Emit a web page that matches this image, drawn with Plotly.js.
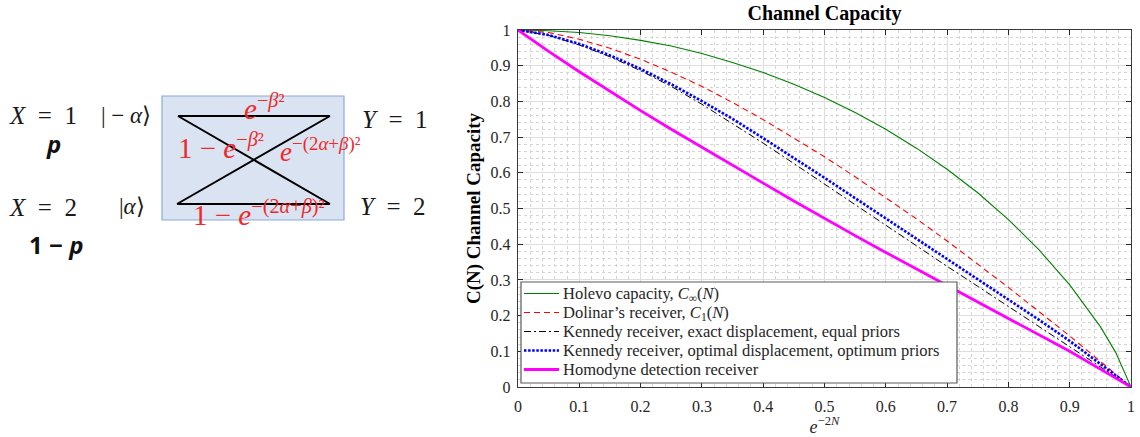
<!DOCTYPE html>
<html>
<head>
<meta charset="utf-8">
<script src="https://cdn.plot.ly/plotly-3.0.1.min.js"></script>
<style>html,body{margin:0;padding:0;background:#fff;}#chart{width:1140px;height:437px;}</style>
</head>
<body>
<div id="chart"></div>
<script>
// ---- data ----
const xGrid = [0,0.05,0.1,0.15,0.2,0.25,0.3,0.35,0.4,0.45,0.5,0.55,0.6,0.65,0.7,0.75,0.8,0.85,0.9,0.95,0.975,1];
const holevo = [1,0.998,0.993,0.984,0.971,0.955,0.934,0.909,0.881,0.848,0.811,0.769,0.722,0.669,0.61,0.544,0.469,0.384,0.286,0.169,0.097,0];
const dolinar = [1,0.993,0.974,0.949,0.918,0.882,0.842,0.797,0.749,0.698,0.645,0.589,0.531,0.471,0.409,0.345,0.279,0.211,0.143,0.072,0.036,0];
const kennedyExact = [1,0.985,0.958,0.925,0.886,0.842,0.792,0.738,0.683,0.626,0.568,0.51,0.452,0.395,0.338,0.282,0.226,0.169,0.113,0.056,0.028,0];
const kennedyOpt = [1,0.986,0.961,0.929,0.891,0.848,0.801,0.751,0.697,0.642,0.586,0.529,0.472,0.416,0.36,0.303,0.246,0.188,0.129,0.065,0.033,0];
const homodyne = [1,0.94,0.883,0.828,0.774,0.722,0.671,0.621,0.571,0.521,0.472,0.424,0.377,0.33,0.284,0.238,0.192,0.146,0.1,0.05,0.025,0];
const seriesNames = [
  'Holevo capacity, <i>C</i><sub>∞</sub>(<i>N</i>)',
  'Dolinar\u2019s receiver, <i>C</i><sub>1</sub>(<i>N</i>)',
  'Kennedy receiver, exact displacement, equal priors',
  'Kennedy receiver, optimal displacement, optimum priors',
  'Homodyne detection receiver'
];
const xTickVals = [0,0.1,0.2,0.3,0.4,0.5,0.6,0.7,0.8,0.9,1];
const yTickVals = [0,0.1,0.2,0.3,0.4,0.5,0.6,0.7,0.8,0.9,1];

// ---- layout helpers ----
const W = 1140, H = 437;
const M = {l:0, r:9, t:30, b:50};
const PW = W - M.l - M.r, PH = H - M.t - M.b;
function px(x){ return (x - M.l)/PW; }
function py(y){ return (H - M.b - y)/PH; }

const SERIF = 'Liberation Serif';
const styles = [
  {color:'#008000', width:1.1, dash:'solid'},
  {color:'#ff0000', width:1.1, dash:'6px,4px'},
  {color:'#000000', width:1.0, dash:'7px,3px,2px,3px'},
  {color:'#0000ff', width:2.6, dash:'2.5px,1.6px'},
  {color:'#ff00ff', width:2.8, dash:'solid'}
];
const ys = [holevo, dolinar, kennedyExact, kennedyOpt, homodyne];
const traces = ys.map((y,i)=>({
  x:xGrid, y:y, type:'scatter', mode:'lines', name:seriesNames[i],
  line:{color:styles[i].color, width:styles[i].width, dash:styles[i].dash, shape:'linear'},
  hoverinfo:'skip', showlegend:false
}));

// ---- left diagram (decoration) ----
const box = {x0:162, y0:96, x1:344, y1:220};
const nodes = {tl:[178,116], tr:[330,116], bl:[177,204], br:[330,204]};
const shapes = [
  {type:'rect', xref:'paper', yref:'paper', x0:px(box.x0), x1:px(box.x1), y0:py(box.y0), y1:py(box.y1),
   fillcolor:'#dae3f1', line:{color:'#8eaadb', width:1.2}},
  ...[[nodes.tl,nodes.tr],[nodes.bl,nodes.br],[nodes.tl,nodes.br],[nodes.bl,nodes.tr]].map(([a,b])=>({
    type:'line', xref:'paper', yref:'paper', x0:px(a[0]), y0:py(a[1]), x1:px(b[0]), y1:py(b[1]),
    line:{color:'#000', width:2}
  }))
];
const RED = '#ee2a2a';
function ann(text, x, y, size, color, family, anchor){
  return {text:text, xref:'paper', yref:'paper', x:px(x), y:py(y), xanchor:anchor||'center', yanchor:'middle',
    showarrow:false, borderpad:0, font:{family:family||SERIF, size:size, color:color||'#1a1a1a'}};
}
const sp = '\u2002';
const annotations = [
  ann('<i>X</i>'+sp+'='+sp+'1', 43, 115, 25),
  ann('<b><i>p</i></b>', 53, 143, 24, '#111', 'Noto Sans'),
  ann('<i>X</i>'+sp+'='+sp+'2', 43, 207, 25),
  ann('<b>1 − <i>p</i></b>', 56, 244, 24, '#111', 'Noto Sans'),
  ann('| − <i>α</i>⟩', 126, 115, 23),
  ann('|<i>α</i>⟩', 132, 206, 23),
  ann('<i>Y</i>'+sp+'='+sp+'1', 395, 119, 25),
  ann('<i>Y</i>'+sp+'='+sp+'2', 393, 206, 25),
  ann('<i>e</i><sup>−<i>β</i>²</sup>', 264, 107, 29, RED),
  ann('1 − <i>e</i><sup>−<i>β</i>²</sup>', 221, 146, 29, RED),
  ann('<i>e</i><sup>−(2<i>α</i>+<i>β</i>)²</sup>', 321, 150, 27, RED),
  ann('1 − <i>e</i><sup>−(2<i>α</i>+<i>β</i>)²</sup>', 259, 213, 29, RED)
];

// ---- legend (drawn box, samples and labels) ----
const legBox = {x0:521, y0:282, x1:957, y1:383};
const legRows = [293.5, 312.5, 331.5, 350.5, 369.5];
shapes.push({type:'rect', xref:'paper', yref:'paper', x0:px(legBox.x0), x1:px(legBox.x1),
  y0:py(legBox.y0), y1:py(legBox.y1), fillcolor:'#ffffff', line:{color:'#5a5a5a', width:1.2}});
legRows.forEach((r,i)=>{
  shapes.push({type:'line', xref:'paper', yref:'paper', x0:px(524), x1:px(559), y0:py(r), y1:py(r),
    line:{color:styles[i].color, width:styles[i].width, dash:styles[i].dash}});
  annotations.push(ann(seriesNames[i], 562, r, 16.5, '#262626', SERIF, 'left'));
});

const axisCommon = {
  showline:true, linecolor:'#3a3a3a', linewidth:1.4, mirror:'ticks',
  ticks:'inside', ticklen:5, tickwidth:1, tickcolor:'#262626',
  showgrid:true, gridcolor:'#dedede', gridwidth:1, zeroline:false,
  tickfont:{family:SERIF, size:16, color:'#262626'},
  minor:{dtick:0.02, showgrid:true, gridcolor:'#d4d4d4', griddash:'dot', gridwidth:1, ticks:''},
  automargin:false, fixedrange:true
};

const layout = {
  width:W, height:H, margin:M,
  paper_bgcolor:'#ffffff', plot_bgcolor:'#ffffff',
  title:{text:'<b>Channel Capacity</b>', xref:'paper', x:px(824.5), xanchor:'center',
         yref:'container', y:1-13/H, yanchor:'middle',
         font:{family:SERIF, size:20, color:'#000'}},
  xaxis:Object.assign({}, axisCommon, {
    domain:[px(518), 1], range:[0,1], tickvals:xTickVals, ticklabelstandoff:4,
    title:{text:'<i>e</i><sup>−2<i>N</i></sup>', font:{family:SERIF, size:18, color:'#262626'}, standoff:4}
  }),
  yaxis:Object.assign({}, axisCommon, {
    range:[0,1], tickvals:yTickVals, ticklabelstandoff:3,
    title:{text:'<b>C(N) Channel Capacity</b>', font:{family:SERIF, size:19, color:'#000'}, standoff:4}
  }),
  showlegend:false,
  shapes:shapes,
  annotations:annotations
};

Plotly.newPlot('chart', traces, layout, {displayModeBar:false, staticPlot:true});
</script>
</body>
</html>
